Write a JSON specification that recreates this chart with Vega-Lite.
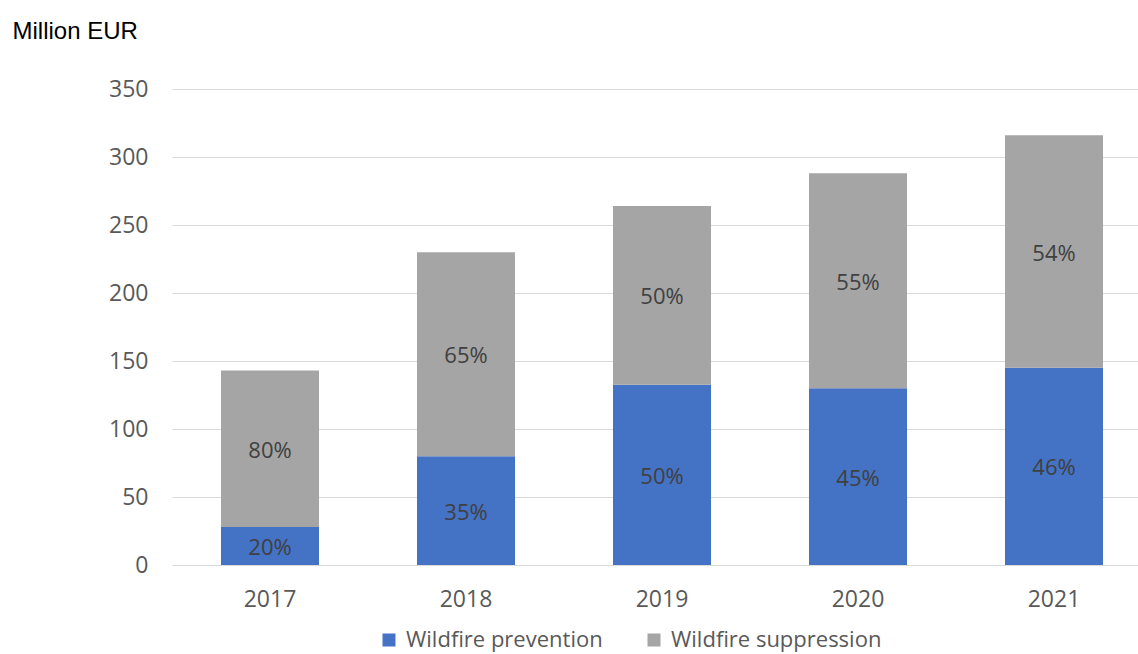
{
  "$schema": "https://vega.github.io/schema/vega-lite/v6.json",
  "autosize": "none",
  "width": 980,
  "height": 476,
  "padding": {"left": 172, "top": 89, "right": 0, "bottom": 89},
  "background": "white",
  "config": {
    "view": {"stroke": null},
    "font": "Open Sans"
  },
  "data": {
    "values": [
      {"year": "2017", "type": "Wildfire prevention", "value": 28, "share": "20%"},
      {"year": "2017", "type": "Wildfire suppression", "value": 115, "share": "80%"},
      {"year": "2018", "type": "Wildfire prevention", "value": 80, "share": "35%"},
      {"year": "2018", "type": "Wildfire suppression", "value": 150, "share": "65%"},
      {"year": "2019", "type": "Wildfire prevention", "value": 132.5, "share": "50%"},
      {"year": "2019", "type": "Wildfire suppression", "value": 131.5, "share": "50%"},
      {"year": "2020", "type": "Wildfire prevention", "value": 130, "share": "45%"},
      {"year": "2020", "type": "Wildfire suppression", "value": 158, "share": "55%"},
      {"year": "2021", "type": "Wildfire prevention", "value": 145, "share": "46%"},
      {"year": "2021", "type": "Wildfire suppression", "value": 171, "share": "54%"}
    ]
  },
  "transform": [
    {"calculate": "datum.type === 'Wildfire prevention' ? 0 : 1", "as": "order"},
    {"stack": "value", "groupby": ["year"], "sort": [{"field": "order", "order": "ascending"}], "as": ["v0", "v1"]},
    {"calculate": "(datum.v0 + datum.v1) / 2", "as": "mid"}
  ],
  "encoding": {
    "x": {
      "field": "year", "type": "nominal",
      "scale": {"paddingInner": 0.5, "paddingOuter": 0.25},
      "axis": {
        "title": null, "labelAngle": 0, "domain": false, "ticks": false,
        "labelFontSize": 23, "labelColor": "#595959", "labelPadding": 23,
        "labelFont": "Open Sans"
      }
    }
  },
  "layer": [
    {
      "mark": {"type": "bar"},
      "encoding": {
        "y": {
          "field": "v1", "type": "quantitative",
          "scale": {"domain": [0, 350]},
          "axis": {
            "values": [0, 50, 100, 150, 200, 250, 300, 350],
            "domain": false, "ticks": false,
            "gridColor": "#d9d9d9", "gridWidth": 1,
            "labelFontSize": 23, "labelColor": "#595959", "labelPadding": 24,
            "labelFont": "Open Sans",
            "title": "Million EUR",
            "titleAngle": 0, "titleAlign": "left", "titleBaseline": "alphabetic",
            "titleX": -160, "titleY": -51,
            "titleFont": "Liberation Sans", "titleFontSize": 24,
            "titleFontWeight": "normal", "titleColor": "#000000"
          }
        },
        "y2": {"field": "v0"},
        "color": {
          "field": "type", "type": "nominal",
          "scale": {"domain": ["Wildfire prevention", "Wildfire suppression"], "range": ["#4472C4", "#A5A5A5"]},
          "legend": {
            "title": null, "orient": "none", "direction": "horizontal",
            "legendX": 206, "legendY": 540,
            "symbolType": "square", "symbolSize": 169, "symbolStrokeWidth": 0,
            "labelFontSize": 22, "labelColor": "#595959", "labelFont": "Open Sans",
            "labelLimit": 0, "columnPadding": 40, "labelOffset": 6
          }
        }
      }
    },
    {
      "mark": {"type": "text", "fontSize": 22, "color": "#404040", "baseline": "middle", "font": "Open Sans", "dy": 2},
      "encoding": {
        "y": {"field": "mid", "type": "quantitative"},
        "text": {"field": "share"}
      }
    }
  ]
}
